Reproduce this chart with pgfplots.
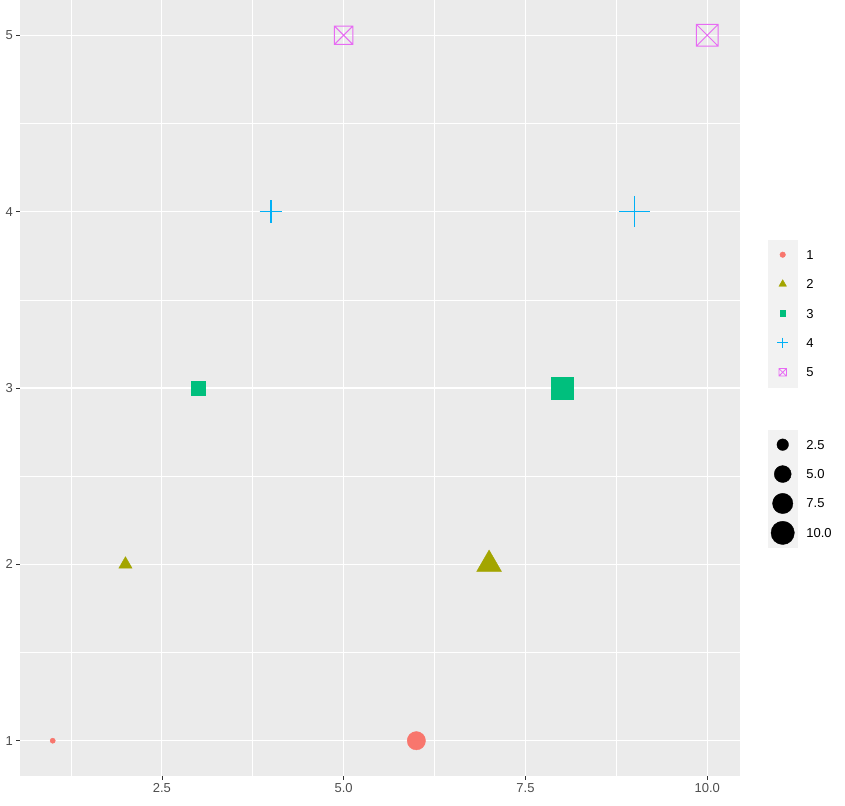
\documentclass[border=0pt]{standalone}
\usepackage{pgfplots}
\pgfplotsset{compat=1.18}
\usepackage{fontspec}
\setmainfont{Liberation Sans}
\usetikzlibrary{calc}
\definecolor{panelbg}{HTML}{EBEBEB}
\definecolor{keybg}{HTML}{F2F2F2}
\definecolor{tickcol}{HTML}{333333}
\definecolor{labcol}{HTML}{4D4D4D}
\definecolor{c1}{HTML}{F8766D}
\definecolor{c2}{HTML}{A3A500}
\definecolor{c3}{HTML}{00BF7D}
\definecolor{c4}{HTML}{00B0F6}
\definecolor{c5}{HTML}{E76BF3}
\pgfdeclareplotmark{boxx}{%
  \pgfpathrectangle{\pgfpoint{-\pgfplotmarksize}{-\pgfplotmarksize}}{\pgfpoint{2\pgfplotmarksize}{2\pgfplotmarksize}}%
  \pgfpathmoveto{\pgfpoint{-\pgfplotmarksize}{-\pgfplotmarksize}}\pgfpathlineto{\pgfpoint{\pgfplotmarksize}{\pgfplotmarksize}}%
  \pgfpathmoveto{\pgfpoint{-\pgfplotmarksize}{\pgfplotmarksize}}\pgfpathlineto{\pgfpoint{\pgfplotmarksize}{-\pgfplotmarksize}}%
  \pgfusepathqstroke}
\pgfplotsset{
  keyimg/.style={legend image code/.code={%
    \fill[keybg] (0bp,-14.5bp) rectangle (29bp,14.5bp);
    \draw[##1] plot coordinates {(14.5bp,0bp)};}},
  sized/.style 2 args={scatter, only marks, forget plot, mark=#1,
    scatter/use mapped color={draw=#2, fill=#2},
    visualization depends on={\thisrow{r} \as \perpointmarksize},
    scatter/@pre marker code/.append style={/tikz/mark size=\perpointmarksize}},
  mylegend/.style={legend style={draw=none, fill=none, inner sep=0pt, outer sep=0pt,
    row sep=0pt, column sep=9bp, cells={anchor=west},
    nodes={inner sep=0pt, outer sep=0pt, text depth=0pt},
    font=\fontsize{13bp}{15bp}\selectfont, text=black}},
}
\begin{document}
\begin{tikzpicture}
\begin{axis}[
  scale only axis, width=720bp, height=776bp,
  xmin=0.55, xmax=10.45, ymin=0.8, ymax=5.2,
  axis background/.style={fill=panelbg},
  axis line style={draw=none},
  xtick={2.5,5,7.5,10}, xticklabels={2.5,5.0,7.5,10.0},
  ytick={1,2,3,4,5},
  minor xtick={1.25,3.75,6.25,8.75}, minor ytick={1.5,2.5,3.5,4.5},
  grid=both,
  major grid style={white, line width=1.1bp},
  minor grid style={white, line width=0.55bp},
  tick align=outside, major tick length=3.7bp, minor tick length=0pt,
  tick style={tickcol, line width=0.55bp},
  xtick pos=bottom, ytick pos=left,
  tick label style={font=\fontsize{13bp}{15bp}\selectfont, text=labcol},
  /pgf/number format/assume math mode=true,
  clip=false,
  mylegend, keyimg,
  legend style={at={(1.0389,0.6907)}, anchor=north west},
]
\addplot[sized={*}{c1}] table {
x y r
1 1 2.6
6 1 9.2
};
\addplot[sized={triangle*}{c2}] table {
x y r
2 2 7.7
7 2 14.4
};
\addplot[sized={square*}{c3}] table {
x y r
3 3 7.2
8 3 11
};
\addplot[sized={+}{c4}, mark options={line width=1.5bp}] table {
x y r
4 4 11.3
9 4 15.8
};
\addplot[sized={boxx}{c5}, mark options={line width=1.0bp}] table {
x y r
5 5 9.2
10 5 11
};
\addlegendimage{only marks, mark=*, c1, mark size=2.8}
\addlegendentry{1}
\addlegendimage{only marks, mark=triangle*, c2, mark size=4.4}
\addlegendentry{2}
\addlegendimage{only marks, mark=square*, c3, mark size=3}
\addlegendentry{3}
\addlegendimage{only marks, mark=+, c4, mark size=5.3, mark options={line width=1bp}}
\addlegendentry{4}
\addlegendimage{only marks, mark=boxx, c5, mark size=3.8, mark options={line width=0.8bp}}
\addlegendentry{5}
\end{axis}
\begin{axis}[
  scale only axis, width=720bp, height=776bp,
  xmin=0.55, xmax=10.45, ymin=0.8, ymax=5.2,
  hide axis,
  mylegend, keyimg,
  legend style={at={(1.0389,0.4459)}, anchor=north west},
]
\addlegendimage{only marks, mark=*, black, mark size=5.8}
\addlegendentry{2.5}
\addlegendimage{only marks, mark=*, black, mark size=8.5}
\addlegendentry{5.0}
\addlegendimage{only marks, mark=*, black, mark size=10.2}
\addlegendentry{7.5}
\addlegendimage{only marks, mark=*, black, mark size=11.7}
\addlegendentry{10.0}
\end{axis}
\pgfresetboundingbox
\path ($(current axis.south west)+(-20bp,-30bp)$) rectangle ($(current axis.north east)+(105bp,0bp)$);
\end{tikzpicture}
\end{document}
